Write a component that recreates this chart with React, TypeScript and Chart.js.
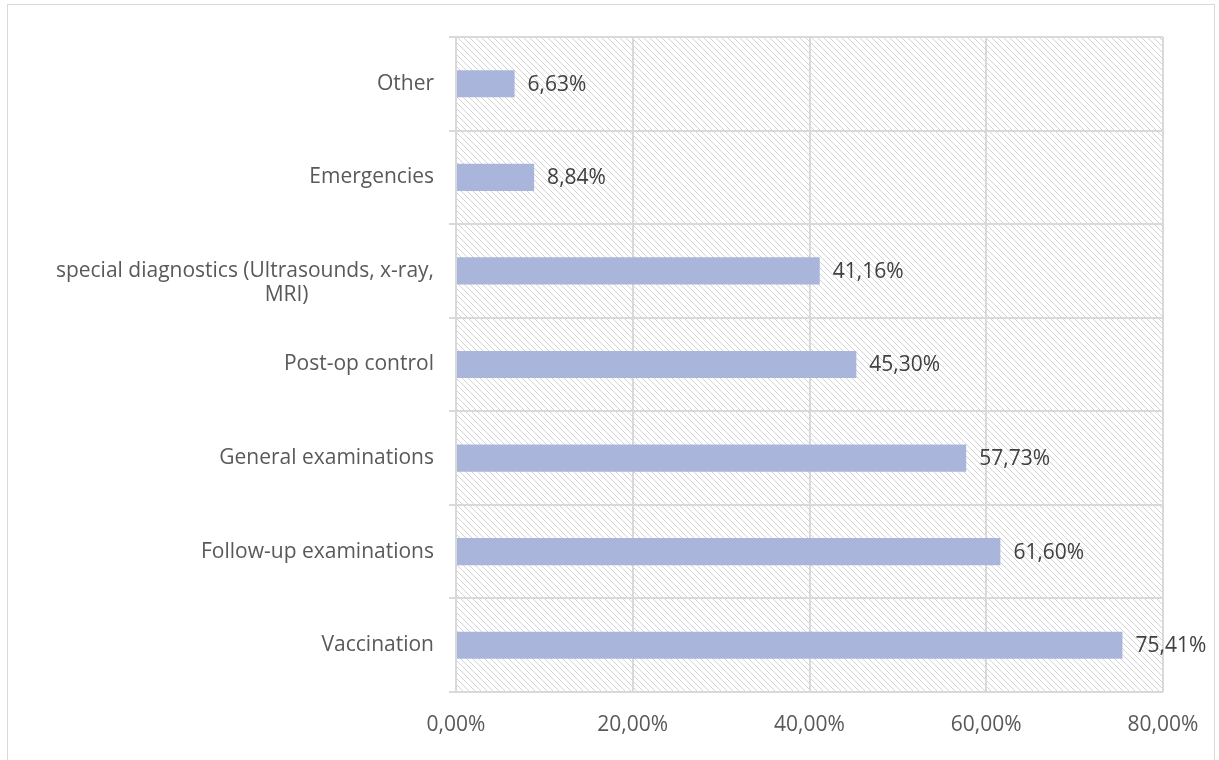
import React, { useEffect, useRef } from "react";
import { Chart, registerables } from "chart.js";

Chart.register(...registerables);

const categories: (string | string[])[] = [
  "Other",
  "Emergencies",
  ["", "special diagnostics (Ultrasounds, x-ray,", "MRI)" + " ".repeat(23)],
  "Post-op control",
  "General examinations",
  "Follow-up examinations",
  "Vaccination",
];
const values = [6.63, 8.84, 41.16, 45.3, 57.73, 61.6, 75.41];
const xTicks = [0, 20, 40, 60, 80];

const fmt = (v: number) => v.toFixed(2).replace(".", ",") + "%";
const FONT = "'Open Sans', sans-serif";

export default function App() {
  const ref = useRef<HTMLCanvasElement>(null);
  useEffect(() => {
    document.body.style.margin = "0";
    const canvas = ref.current!;
    const pc = document.createElement("canvas");
    pc.width = 6;
    pc.height = 6;
    const pctx = pc.getContext("2d")!;
    pctx.strokeStyle = "#d4d4d4";
    pctx.lineWidth = 1;
    pctx.beginPath();
    pctx.moveTo(-1, -1);
    pctx.lineTo(7, 7);
    pctx.moveTo(-1, 5);
    pctx.lineTo(1, 7);
    pctx.moveTo(5, -1);
    pctx.lineTo(7, 1);
    pctx.stroke();

    const hatch = {
      id: "hatch",
      beforeDraw(chart: any) {
        const { ctx, chartArea } = chart;
        const pat = ctx.createPattern(pc, "repeat");
        ctx.save();
        ctx.fillStyle = pat;
        ctx.fillRect(chartArea.left, chartArea.top, chartArea.right - chartArea.left, chartArea.bottom - chartArea.top);
        ctx.restore();
      },
    };
    const labels = {
      id: "valLabels",
      afterDatasetsDraw(chart: any) {
        const { ctx } = chart;
        const meta = chart.getDatasetMeta(0);
        ctx.save();
        ctx.font = `21px ${FONT}`;
        ctx.fillStyle = "#404040";
        ctx.textAlign = "left";
        ctx.textBaseline = "middle";
        meta.data.forEach((bar: any, i: number) => {
          ctx.fillText(fmt(values[i]), bar.x + 13, bar.y + 1);
        });
        ctx.restore();
      },
    };

    const chart = new Chart(canvas, {
      type: "bar",
      data: {
        labels: categories,
        datasets: [
          {
            data: values,
            backgroundColor: "#a9b5da",
            barPercentage: 0.58,
            categoryPercentage: 0.5,
          },
        ],
      },
      options: {
        indexAxis: "y",
        animation: false,
        responsive: false,
        layout: { padding: { top: 37, right: 56, left: 0, bottom: 0 } },
        plugins: { legend: { display: false }, tooltip: { enabled: false } },
        scales: {
          x: {
            min: 0,
            max: 80,
            afterBuildTicks: (s: any) => {
              s.ticks = xTicks.map((v) => ({ value: v }));
            },
            afterFit: (s: any) => {
              s.height = 68;
            },
            grid: { color: "#d9d9d9", lineWidth: 2, drawTicks: false },
            border: { display: false },
            ticks: {
              color: "#595959",
              font: { family: FONT, size: 21 },
              padding: 20,
              callback: (v: any) => fmt(Number(v)),
            },
          },
          y: {
            afterFit: (s: any) => {
              s.width = 456;
            },
            grid: { color: "#d9d9d9", lineWidth: 2, tickLength: 7, offset: true },
            border: { display: false },
            ticks: {
              color: "#595959",
              font: { family: FONT, size: 21, lineHeight: 1.15 },
              padding: 15,
            },
          },
        },
      },
      plugins: [hatch, labels],
    });
    return () => chart.destroy();
  }, []);
  return (
    <div style={{ position: "relative", width: 1219, height: 760, background: "#fff", overflow: "hidden" }}>
      <div
        style={{
          position: "absolute",
          left: 7,
          top: 4,
          width: 1208,
          height: 770,
          border: "1.5px solid #d9d9d9",
          boxSizing: "border-box",
        }}
      />
      <canvas ref={ref} width={1219} height={760} style={{ position: "absolute", left: 0, top: 0 }} />
    </div>
  );
}
